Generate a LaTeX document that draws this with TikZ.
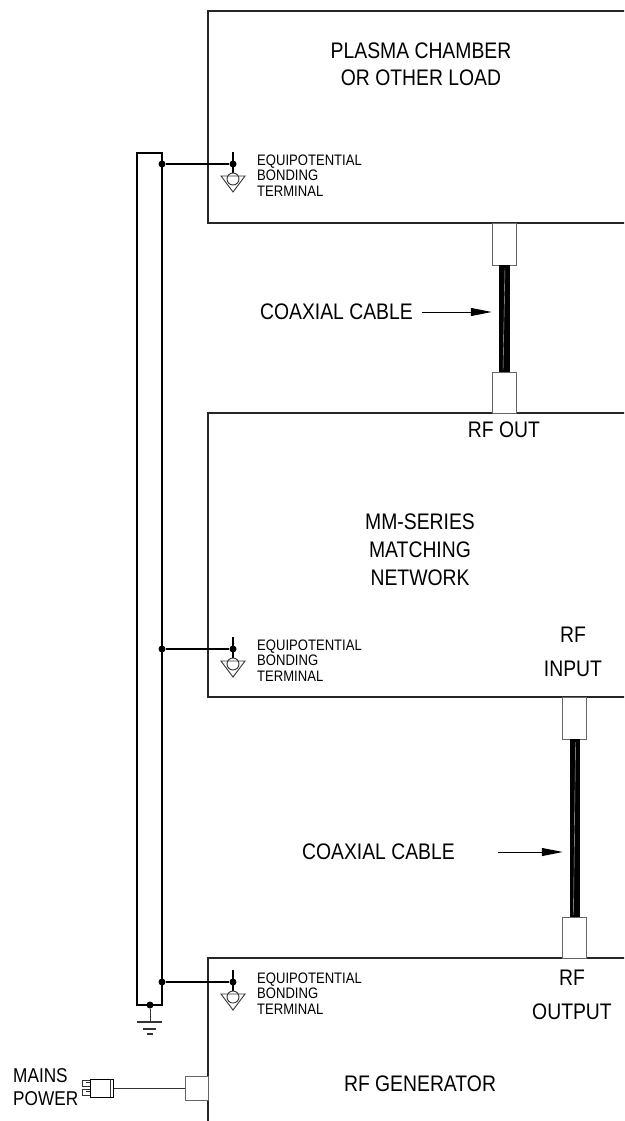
\documentclass[tikz,border=0pt]{standalone}
\usepackage{fontspec}
\setmainfont{Liberation Sans}[FakeStretch=0.86]
\usetikzlibrary{arrows.meta}
\newcommand\fBig{\fontsize{22.5}{27}\selectfont}
\newcommand\fSmall{\fontsize{15.2}{15.5}\selectfont}
\newcommand\fMains{\fontsize{20}{23}\selectfont}
\begin{document}
\begin{tikzpicture}[x=1pt,y=-1pt,
  box/.style={draw=black!85, line width=1.3pt, rectangle, inner sep=0pt},
  conn/.style={draw=black!60, line width=1pt, fill=white, rectangle, inner sep=0pt},
  cable/.style={fill=black, draw=black, rectangle, inner sep=0pt, line width=0.5pt},
  wire/.style={line width=1.2pt, draw=black},
  thin/.style={line width=0.9pt, draw=black!80},
  dot/.style={circle, fill=black, inner sep=0pt, minimum size=7pt},
  big/.style={font=\fBig, align=center, inner sep=0pt},
  small/.style={font=\fSmall, align=left, inner sep=0pt, anchor=west},
  arr/.style={-{Triangle[length=21pt,width=8pt]}, line width=1pt},
  eqterm/.pic={
    \draw[wire] (0,-12) -- (0,9);
    \draw[thin] (-12,12) -- (12,12) -- (0,28) -- cycle;
    \draw[thin] (0,15) circle[radius=6pt];
    \node[dot] (-d) at (0,0) {};
  }]
\useasboundingbox (0,0) rectangle (624,1121);
\clip (0,0) rectangle (624,1121);

% boxes
\node[box, minimum width=432pt, minimum height=212pt] (load) at (424,117) {};
\node[box, minimum width=432pt, minimum height=284pt] (match) at (424,555) {};
\node[box, minimum width=432pt, minimum height=177pt] (gen) at (424,1046.5) {};

% box texts
\node[big] (loadtxt) at (421,64) {PLASMA CHAMBER\\OR OTHER LOAD};
\node[big, font=\fontsize{22.5}{28}\selectfont] (matchtxt) at (420,550) {MM-SERIES\\MATCHING\\NETWORK};
\node[big, font=\fontsize{22.5}{34}\selectfont] (rfin) at (573,652) {RF\\INPUT};
\node[big, font=\fontsize{22.5}{34}\selectfont] (rfoutp) at (572,995) {RF\\OUTPUT};
\node[big] (gentxt) at (420,1084) {RF GENERATOR};
\node[big] (rfout) at (504,430) {RF OUT};

% upper cable
\node[conn, minimum width=24pt, minimum height=42pt] (c1) at (504,244) {};
\node[cable, minimum width=10pt, minimum height=107pt] (cab1) at (504,318.5) {};
\node[conn, minimum width=24pt, minimum height=41pt] (c2) at (504,392.5) {};
\draw[white!75!black, line width=0.4pt] (505,268) -- (503,370);

% lower cable
\node[conn, minimum width=24pt, minimum height=42pt] (c3) at (574.5,718) {};
\node[cable, minimum width=9pt, minimum height=178pt] (cab2) at (574.5,828) {};
\node[conn, minimum width=24pt, minimum height=41pt] (c4) at (574.5,937.5) {};
\draw[white!75!black, line width=0.4pt] (575.5,742) -- (573.5,915);

% coax labels and arrows
\node[big, anchor=east] (coax1) at (413,312) {COAXIAL CABLE};
\draw[arr] ([xshift=9pt]coax1.east) -- ([xshift=-7pt]coax1.east -| cab1.west);
\node[big, anchor=east] (coax2) at (455,852) {COAXIAL CABLE};
\draw[arr] ([xshift=43pt]coax2.east) -- ([xshift=-7pt]coax2.east -| cab2.west);

% bonding bus
\draw[wire] (137,153) rectangle (162,1005);
\node[dot] (j1) at (162,164) {};
\node[dot] (j2) at (162,649) {};
\node[dot] (j3) at (162,982) {};
\node[dot] (jg) at (150,1005) {};

% terminals
\pic (t1) at (233,164) {eqterm};
\pic (t2) at (233,649) {eqterm};
\pic (t3) at (233,982) {eqterm};
\draw[wire] (j1) -- (t1-d);
\draw[wire] (j2) -- (t2-d);
\draw[wire] (j3) -- (t3-d);
\node[small] (l1) at (257,175.5) {EQUIPOTENTIAL\\BONDING\\TERMINAL};
\node[small] (l2) at (257,660.5) {EQUIPOTENTIAL\\BONDING\\TERMINAL};
\node[small] (l3) at (257,993.5) {EQUIPOTENTIAL\\BONDING\\TERMINAL};

% ground
\coordinate (gnd) at (150,1022);
\draw[thin] (jg) -- (gnd);
\draw[thin, line width=1.3pt] ([xshift=-13pt]gnd) -- ([xshift=12pt]gnd);
\draw[thin, line width=1.3pt] ([xshift=-7pt,yshift=-7pt]gnd) -- ([xshift=6pt,yshift=-7pt]gnd);
\draw[thin, line width=1.3pt] ([xshift=-3pt,yshift=-12pt]gnd) -- ([xshift=3pt,yshift=-12pt]gnd);

% mains power
\node[conn, minimum width=23pt, minimum height=24pt] (port) at (196.5,1088) {};
\node[conn, draw=black, minimum width=23pt, minimum height=18pt] (plug) at (101.5,1088) {};
\draw[thin] (110,1079) -- (110,1097);
\draw[thin] (90,1080) -- (82,1080) -- (82,1086) -- (90,1086);
\draw[thin] (86,1082.5) -- (90,1082.5);
\draw[thin] (90,1089) -- (82,1089) -- (82,1095) -- (90,1095);
\draw[thin] (86,1091.5) -- (90,1091.5);
\draw[thin] (plug.east) -- (port.west);
\node[font=\fMains, align=left, inner sep=0pt, anchor=west] (mains) at (13,1087.5) {MAINS\\POWER};
\end{tikzpicture}
\end{document}
